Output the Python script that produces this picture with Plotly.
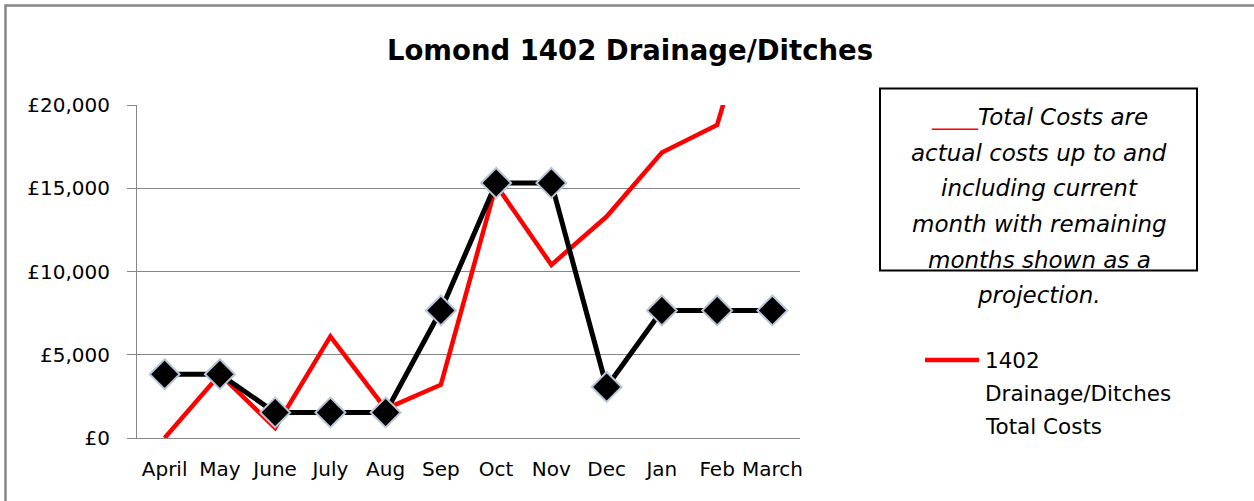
import plotly.graph_objects as go

months = ["April", "May", "June", "July", "Aug", "Sep", "Oct", "Nov", "Dec", "Jan", "Feb", "March"]
budget_values = [3830, 3830, 1532, 1532, 1532, 7660, 15320, 15320, 3064, 7660, 7660, 7660]
total_costs = [0, 3830, 600, 6100, 1750, 3200, 15200, 10400, 13300, 17150, 18800, 30000]
y_ticks = [0, 5000, 10000, 15000, 20000]
y_tick_labels = ["\u00a30", "\u00a35,000", "\u00a310,000", "\u00a315,000", "\u00a320,000"]
note_lines = ["<span style='color:#FF0000'>____</span><i>Total Costs are</i>",
              "<i>actual costs up to and</i>", "<i>including current</i>",
              "<i>month with remaining</i>", "<i>months shown as a</i>", "<i>projection.</i>"]
legend_lines = ["1402", "Drainage/Ditches", "Total Costs"]

FONT = "DejaVu Sans"
GRID = "#868686"

fig = go.Figure()
fig.add_trace(go.Scatter(
    x=months, y=total_costs, mode="lines",
    line=dict(color="#FF0000", width=4.5),
    name="1402 Drainage/Ditches Total Costs", showlegend=False,
))
fig.add_trace(go.Scatter(
    x=months, y=budget_values, mode="lines+markers",
    line=dict(color="#000000", width=5),
    marker=dict(symbol="diamond", size=23, color="#000000",
                line=dict(color="#B8C6DA", width=2)),
    name="Budget", showlegend=False,
))

L, R, T, B = 137, 800, 105, 438
W, H = 1254, 501

def px_x(p):
    return (p - L) / (R - L)

def px_y(p):
    return (B - p) / (B - T)

fig.update_layout(
    width=W, height=H,
    margin=dict(l=L, r=W - R, t=T, b=H - B, pad=0),
    paper_bgcolor="white", plot_bgcolor="white",
    font=dict(family=FONT, color="#000000"),
    title=dict(text="<b>Lomond 1402 Drainage/Ditches</b>", x=630 / W, xanchor="center",
               xref="container", y=1 - 50 / H, yanchor="middle",
               font=dict(family=FONT, size=27.5, color="#000000")),
    showlegend=False,
)

fig.update_xaxes(
    type="category", range=[-0.5, 11.5], showgrid=False,
    showline=True, linecolor=GRID, linewidth=1,
    ticks="", tickfont=dict(family=FONT, size=20, color="#000000"),
    ticklabelstandoff=13,
)
fig.update_yaxes(
    range=[0, 20000], tickvals=y_ticks, ticktext=y_tick_labels,
    showgrid=True, gridcolor=GRID, gridwidth=1,
    showline=True, linecolor=GRID, linewidth=1,
    ticks="outside", ticklen=9, tickcolor=GRID,
    tickfont=dict(family=FONT, size=20, color="#000000"),
    ticklabelstandoff=13,
    zeroline=False,
)

# outer chart border (top and left visible)
fig.add_shape(type="rect", xref="paper", yref="paper",
              x0=px_x(5.5), x1=px_x(1290), y0=px_y(530), y1=px_y(5.5),
              line=dict(color=GRID, width=2.5), layer="below")

# note box
fig.add_shape(type="rect", xref="paper", yref="paper",
              x0=px_x(880), x1=px_x(1197), y0=px_y(270.5), y1=px_y(88.5),
              line=dict(color="#000000", width=2), fillcolor="rgba(0,0,0,0)")
note_y = [117, 153, 188, 224, 260, 295]
for line, yy in zip(note_lines, note_y):
    fig.add_annotation(
        xref="paper", yref="paper", x=px_x(1039), y=px_y(yy), xanchor="center", yanchor="middle",
        showarrow=False, align="center", text=line,
        font=dict(family=FONT, size=23, color="#000000"),
    )

# legend
fig.add_shape(type="line", xref="paper", yref="paper",
              x0=px_x(925), x1=px_x(979), y0=px_y(360), y1=px_y(360),
              line=dict(color="#FF0000", width=4.5))
legend_y = [360, 393, 426]
for line, yy in zip(legend_lines, legend_y):
    fig.add_annotation(
        xref="paper", yref="paper", x=px_x(983), y=px_y(yy), xanchor="left", yanchor="middle",
        showarrow=False, align="left", text=line,
        font=dict(family=FONT, size=21.5, color="#000000"),
    )

fig.write_html("out.html", config={"displayModeBar": False},
               post_script="document.body.style.margin='0px';")
